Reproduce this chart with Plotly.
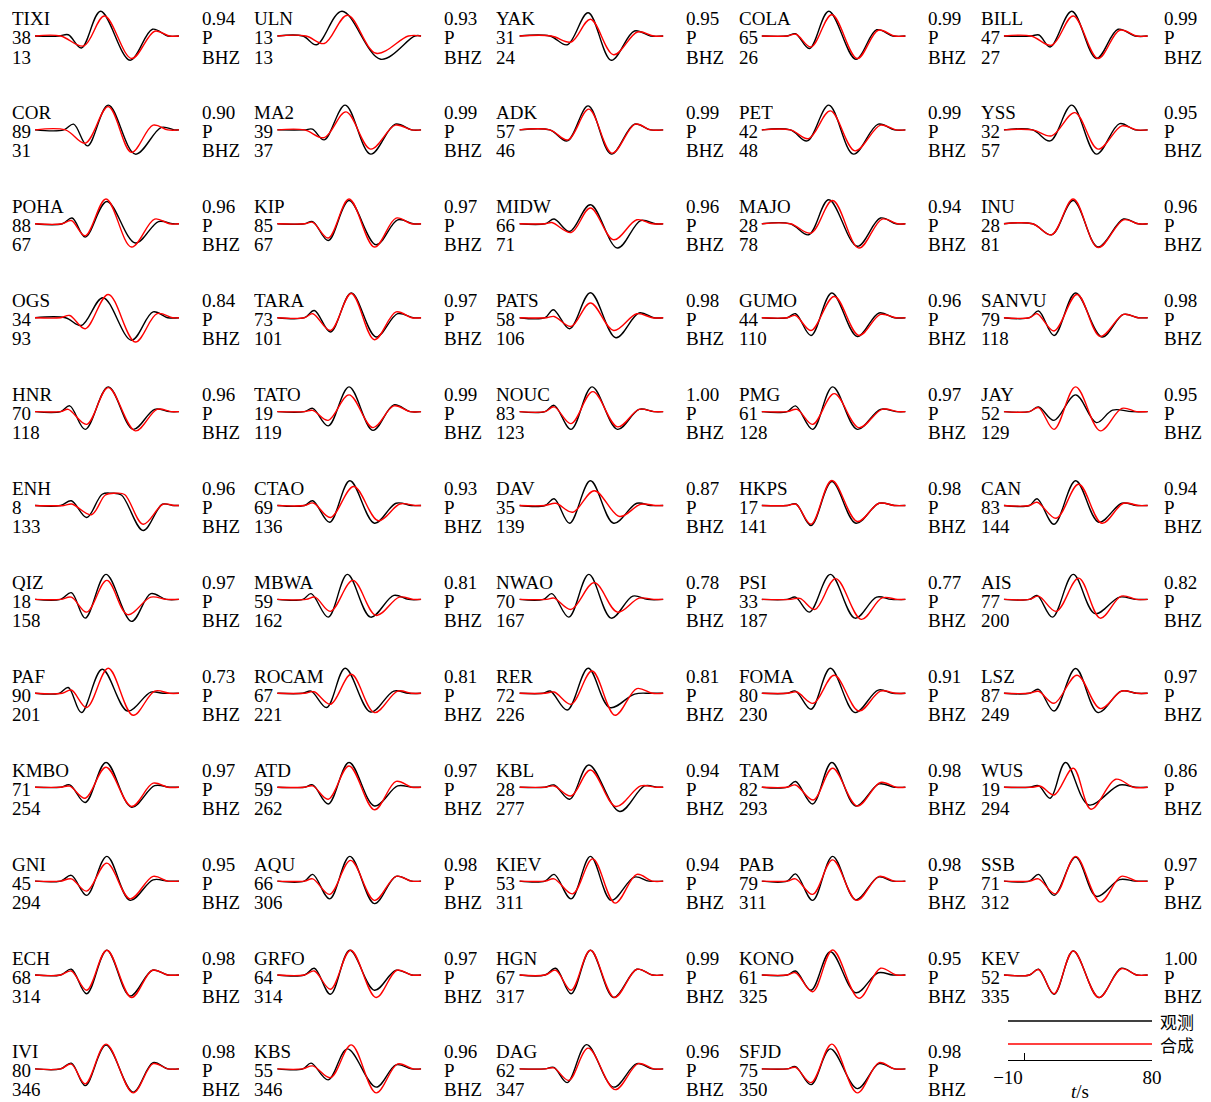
import plotly.graph_objects as go

W, H = 1211, 1102

# Station metadata, row-major order of the panels
STATIONS = ["TIXI", "ULN", "YAK", "COLA", "BILL",
            "COR", "MA2", "ADK", "PET", "YSS",
            "POHA", "KIP", "MIDW", "MAJO", "INU",
            "OGS", "TARA", "PATS", "GUMO", "SANVU",
            "HNR", "TATO", "NOUC", "PMG", "JAY",
            "ENH", "CTAO", "DAV", "HKPS", "CAN",
            "QIZ", "MBWA", "NWAO", "PSI", "AIS",
            "PAF", "ROCAM", "RER", "FOMA", "LSZ",
            "KMBO", "ATD", "KBL", "TAM", "WUS",
            "GNI", "AQU", "KIEV", "PAB", "SSB",
            "ECH", "GRFO", "HGN", "KONO", "KEV",
            "IVI", "KBS", "DAG", "SFJD"]
DISTANCE = [38, 13, 31, 65, 47,
            89, 39, 57, 42, 32,
            88, 85, 66, 28, 28,
            34, 73, 58, 44, 79,
            70, 19, 83, 61, 52,
            8, 69, 35, 17, 83,
            18, 59, 70, 33, 77,
            90, 67, 72, 80, 87,
            71, 59, 28, 82, 19,
            45, 66, 53, 79, 71,
            68, 64, 67, 61, 52,
            80, 55, 62, 75]
AZIMUTH = [13, 13, 24, 26, 27,
           31, 37, 46, 48, 57,
           67, 67, 71, 78, 81,
           93, 101, 106, 110, 118,
           118, 119, 123, 128, 129,
           133, 136, 139, 141, 144,
           158, 162, 167, 187, 200,
           201, 221, 226, 230, 249,
           254, 262, 277, 293, 294,
           294, 306, 311, 311, 312,
           314, 314, 317, 325, 335,
           346, 346, 347, 350]
CORRELATION = [0.94, 0.93, 0.95, 0.99, 0.99,
               0.90, 0.99, 0.99, 0.99, 0.95,
               0.96, 0.97, 0.96, 0.94, 0.96,
               0.84, 0.97, 0.98, 0.96, 0.98,
               0.96, 0.99, 1.00, 0.97, 0.95,
               0.96, 0.93, 0.87, 0.98, 0.94,
               0.97, 0.81, 0.78, 0.77, 0.82,
               0.73, 0.81, 0.81, 0.91, 0.97,
               0.97, 0.97, 0.94, 0.98, 0.86,
               0.95, 0.98, 0.94, 0.98, 0.97,
               0.98, 0.97, 0.99, 0.95, 1.00,
               0.98, 0.96, 0.96, 0.98]
PHASE = "P"
CHANNEL = "BHZ"

# Window of each trace (s) and the scale-bar ticks
WINDOW = [-10, 80]
SCALE_TICKS = [-10, 0, 80]
SCALE_LABELS = ["\u221210", "", "80"]

# Waveform turning points (time in s, normalised amplitude)
OBSERVED = [
    [(5, 0), (10.8, 0.05), (19, -0.48), (31, 0.99), (49.4, -0.97), (63.4, 0.27), (73, 0)],
    [(6, 0), (14.6, -0.35), (30.5, 0.99), (54.7, -0.93), (76, 0)],
    [(9, 0), (19.9, -0.35), (33, 0.93), (47.4, -0.97), (61.9, 0.2), (72, 0)],
    [(6, 0), (11.2, 0.09), (19.9, -0.5), (32, 0.99), (48.9, -0.93), (61.9, 0.25), (72, 0)],
    [(7, 0), (12, 0.04), (19, -0.44), (32.5, 0.99), (47.9, -0.9), (61.4, 0.27), (72, 0)],

    [(8, 0), (14.1, 0.23), (22.8, -0.64), (35.8, 0.99), (52.7, -0.97), (69, 0.1), (77, 0)],
    [(7, 0), (12, 0.03), (19.4, -0.4), (32.5, 0.99), (48.4, -0.97), (63.8, 0.23), (74, 0)],
    [(9, 0), (19.9, -0.44), (33, 0.96), (47.4, -0.97), (61.9, 0.23), (72, 0)],
    [(8, 0), (18.5, -0.44), (32, 0.99), (47.4, -0.97), (62.9, 0.23), (73, 0)],
    [(8, 0), (19, -0.44), (32.5, 0.99), (47.9, -0.97), (62.4, 0.25), (72, 0)],

    [(7, 0), (13.2, 0.23), (21.4, -0.53), (34.9, 0.89), (52.7, -0.77), (67.2, 0.09), (76, 0)],
    [(7, 0), (12.2, 0.09), (21.9, -0.67), (34.9, 0.93), (51.8, -0.84), (65.3, 0.16), (75, 0)],
    [(6, 0), (11.7, 0.19), (21.4, -0.31), (34.4, 0.76), (51.3, -0.97), (65.8, 0.13), (75, 0)],
    [(8, 0), (19.4, -0.44), (32, 0.96), (49.8, -0.9), (64.3, 0.23), (74, 0)],
    [(8, 0), (19.9, -0.44), (33.4, 0.93), (48.9, -0.93), (64.8, 0.19), (74, 0)],

    [(9, 0), (19, -0.31), (32.5, 0.8), (50.3, -0.9), (63.8, 0.23), (73, 0)],
    [(7, 0), (13.2, 0.29), (23.3, -0.57), (36.3, 0.99), (51.8, -0.77), (65.3, 0.16), (75, 0)],
    [(6, 0), (11.2, 0.32), (21.4, -0.44), (34.4, 1.0), (50.3, -0.8), (64.8, 0.19), (74, 0)],
    [(6, 0), (11.2, 0.16), (20.9, -0.71), (33.9, 0.99), (49.8, -0.75), (63.4, 0.19), (73, 0)],
    [(6, 0), (11.7, 0.27), (21.4, -0.71), (34.9, 0.99), (51.3, -0.77), (64.8, 0.13), (74, 0)],

    [(6, 0), (11.7, 0.23), (21.4, -0.71), (35.8, 0.99), (51.3, -0.71), (64.8, 0.09), (74, 0)],
    [(7, 0), (12.2, 0.13), (21.9, -0.57), (34.9, 0.99), (49.8, -0.75), (62.9, 0.27), (73, 0)],
    [(6, 0), (11.7, 0.25), (22.3, -0.71), (35.4, 0.99), (51.3, -0.71), (64.8, 0.09), (74, 0)],
    [(6, 0), (11.2, 0.23), (21.9, -0.71), (34.4, 0.99), (49.8, -0.71), (64.3, 0.09), (74, 0)],
    [(6, 0), (11.7, 0.19), (21.4, -0.35), (34.9, 0.67), (47.9, -0.44), (58, 0.06), (70, 0)],

    [(6, 0), (12.7, 0.19), (22.3, -0.48), (32, 0.45), (38, 0.49), (44, 0.42), (57.6, -1.0), (69.6, 0.05), (76, 0)],
    [(7, 0), (12.2, 0.19), (22.8, -0.67), (35.4, 0.99), (50.8, -0.71), (64.3, 0.09), (74, 0)],
    [(6, 0), (11.7, 0.27), (21.4, -0.71), (34.4, 0.99), (48.9, -0.71), (63.4, 0.09), (72, 0)],
    [(6, 0), (11.5, 0.06), (20.9, -0.8), (33.9, 0.96), (48.9, -0.71), (63.4, 0.09), (73, 0)],
    [(6, 0), (10.8, 0.27), (21.4, -0.75), (34.9, 0.99), (49.4, -0.67), (63.8, 0.09), (73, 0)],

    [(6, 0), (12.7, 0.27), (21.4, -0.75), (34.4, 1.0), (50.3, -0.88), (62.4, 0.23), (72, 0)],
    [(6, 0), (11.2, 0.23), (21.9, -0.71), (33.9, 1.0), (48.4, -0.71), (62.9, 0.16), (72, 0)],
    [(5, 0), (10.3, 0.23), (20.9, -0.71), (33.4, 1.0), (47.4, -0.75), (60.9, 0.13), (70, 0)],
    [(6, 0), (11.2, 0.09), (19.9, -0.51), (33, 1.0), (48.4, -0.75), (61.9, 0.09), (71, 0)],
    [(6, 0), (10.8, 0.16), (20.4, -0.71), (33.4, 1.0), (47, -0.57), (62.4, 0.09), (72, 0)],

    [(5, 0), (10.8, 0.23), (19, -0.77), (32, 0.96), (47.9, -0.71), (62.4, 0.05), (70, 0)],
    [(6, 0), (11.2, 0.09), (20.9, -0.57), (32.5, 1.0), (48.4, -0.75), (62.9, 0.09), (72, 0)],
    [(5, 0), (9.3, 0.09), (19.9, -0.67), (33, 1.0), (46.5, -0.57), (62, -0.03), (72, 0)],
    [(6, 0), (11.2, 0.09), (20.9, -0.64), (33, 1.0), (48.4, -0.77), (62.9, 0.13), (72, 0)],
    [(6, 0), (11.7, 0.16), (21.4, -0.71), (34.9, 0.99), (48.9, -0.77), (63.4, 0.09), (73, 0)],

    [(6, 0), (11.7, 0.09), (21.4, -0.61), (34.4, 0.99), (50.3, -0.8), (64.8, 0.06), (74, 0)],
    [(7, 0), (12.2, 0.09), (21.9, -0.67), (34.9, 0.99), (50.8, -0.75), (65.3, 0.05), (74, 0)],
    [(6, 0), (11.7, 0.09), (21.4, -0.48), (33.4, 0.89), (52.7, -0.97), (68.2, 0.05), (76, 0)],
    [(6, 0), (11.2, 0.23), (21.9, -0.67), (33.9, 0.99), (48.9, -0.75), (63.4, 0.13), (73, 0)],
    [(6, 0), (11.7, 0.06), (19, -0.44), (28.6, 0.99), (43.1, -0.71), (62.4, 0.09), (72, 0)],

    [(6, 0), (12.7, 0.23), (22.3, -0.57), (34.9, 0.99), (49.4, -0.77), (63.8, 0.05), (73, 0)],
    [(7, 0), (12.2, 0.27), (22.8, -0.71), (35.4, 0.99), (50.8, -0.9), (64.3, 0.19), (74, 0)],
    [(6, 0), (11.7, 0.27), (22.3, -0.71), (34.4, 0.99), (47.4, -0.77), (61.9, 0.16), (71, 0)],
    [(6, 0), (11.2, 0.29), (21.9, -0.77), (34.4, 0.99), (48.9, -0.75), (62.9, 0.16), (72, 0)],
    [(6, 0), (11.7, 0.27), (21.4, -0.57), (34.9, 0.96), (47.9, -0.61), (62.4, 0.06), (72, 0)],

    [(6, 0), (12.7, 0.23), (22.3, -0.75), (34.9, 0.99), (49.4, -0.84), (63.4, 0.19), (73, 0)],
    [(7, 0), (13.2, 0.27), (23.3, -0.77), (35.4, 0.99), (50.8, -0.61), (64.3, 0.19), (74, 0)],
    [(6, 0), (12.7, 0.27), (22.3, -0.75), (34.4, 0.99), (48.9, -0.9), (63.4, 0.23), (73, 0)],
    [(6, 0), (11.2, 0.16), (20.9, -0.61), (33, 0.93), (48.9, -0.71), (62.9, 0.09), (72, 0)],
    [(6, 0), (11.7, 0.23), (21.4, -0.77), (33.4, 0.96), (49.4, -0.9), (63.4, 0.27), (73, 0)],

    [(6, 0), (12.7, 0.23), (21.4, -0.67), (34.4, 0.95), (51.3, -0.93), (63.8, 0.25), (73, 0)],
    [(6, 0), (11.2, 0.23), (21.9, -0.44), (33.9, 0.8), (51.8, -0.73), (64.3, 0.16), (74, 0)],
    [(6, 0), (11.5, 0.06), (19.9, -0.55), (32, 0.97), (48.9, -0.73), (63.4, 0.21), (73, 0)],
    [(6, 0), (11.2, 0.09), (20.9, -0.63), (33, 0.8), (49.8, -0.79), (63.4, 0.21), (73, 0)],
]

SYNTHETIC = [
    [(6, 0), (20.4, -0.4), (33.4, 0.8), (50.4, -0.9), (64.8, 0.19), (74, 0)],
    [(8, 0), (19.4, -0.3), (33.9, 0.83), (51.8, -0.69), (72, 0)],
    [(10, 0), (22.3, -0.24), (34.4, 0.67), (48.9, -0.75), (63.8, 0.16), (74, 0)],
    [(6, 0), (11.5, 0.07), (20.9, -0.44), (33.9, 0.85), (49.8, -0.9), (62.9, 0.23), (73, 0)],
    [(7, 0), (19.9, -0.37), (33.4, 0.8), (48.9, -0.9), (62.4, 0.23), (73, 0)],

    [(9, 0), (21.4, -0.53), (35.8, 0.93), (50.3, -0.9), (63.8, 0.19), (73, 0)],
    [(7, 0), (19.4, -0.31), (33, 0.72), (48.4, -0.77), (63.8, 0.19), (74, 0)],
    [(9, 0), (20.4, -0.4), (33.4, 0.83), (47.9, -0.93), (62.4, 0.23), (72, 0)],
    [(8, 0), (19.4, -0.35), (33, 0.76), (48.4, -0.84), (64.3, 0.19), (74, 0)],
    [(8, 0), (19.9, -0.24), (34.4, 0.69), (48.9, -0.77), (63.8, 0.16), (73, 0)],

    [(7, 0), (12.7, 0.13), (21.4, -0.48), (34.4, 0.99), (50.3, -0.93), (64.8, 0.19), (74, 0)],
    [(7, 0), (12.2, 0.06), (21.9, -0.57), (34.9, 0.99), (50.8, -0.93), (64.3, 0.23), (74, 0)],
    [(6, 0), (10.3, 0.05), (22.3, -0.35), (34.4, 0.63), (48.9, -0.64), (63.4, 0.16), (73, 0)],
    [(8, 0), (20.9, -0.37), (34.4, 0.93), (50.8, -0.97), (65.3, 0.19), (75, 0)],
    [(8, 0), (19.9, -0.44), (33.4, 0.99), (48.9, -0.95), (64.8, 0.16), (74, 0)],

    [(6, 0), (11.7, 0.09), (21.4, -0.44), (35.8, 0.93), (52.7, -0.97), (66.3, 0.16), (76, 0)],
    [(7, 0), (12.2, 0.16), (23.3, -0.51), (36.3, 0.97), (50.8, -0.88), (64.3, 0.23), (74, 0)],
    [(7, 0), (11.7, 0.05), (22.3, -0.35), (34.4, 0.59), (48.9, -0.51), (63.4, 0.16), (73, 0)],
    [(6, 0), (11.2, 0.09), (20.9, -0.51), (35.4, 0.85), (50.8, -0.71), (64.3, 0.13), (74, 0)],
    [(6, 0), (10.8, 0.16), (21.4, -0.53), (35.8, 0.93), (50.3, -0.75), (64.8, 0.13), (74, 0)],

    [(6, 0), (10.8, 0.09), (22.3, -0.51), (35.8, 0.96), (52.7, -0.77), (66.3, 0.09), (75, 0)],
    [(7, 0), (12.2, 0.05), (21.9, -0.35), (34.9, 0.67), (49.8, -0.64), (62.9, 0.23), (73, 0)],
    [(6, 0), (11.7, 0.19), (22.3, -0.48), (35.9, 0.8), (51.3, -0.61), (64.8, 0.09), (74, 0)],
    [(6, 0), (12.2, 0.09), (21.9, -0.51), (35.4, 0.72), (50.8, -0.64), (65.3, 0.09), (75, 0)],
    [(6, 0), (11.7, 0.16), (21.4, -0.71), (34.9, 0.99), (50.3, -0.77), (63.8, 0.13), (73, 0)],

    [(8, 0), (13, 0.06), (25.2, -0.37), (34, 0.42), (40, 0.49), (46, 0.44), (57.6, -0.75), (70, 0.05), (77, 0)],
    [(7, 0), (12.5, 0.1), (23.3, -0.48), (37.8, 0.76), (53.2, -0.61), (66.7, 0.06), (76, 0)],
    [(6, 0), (12.7, 0.09), (23.3, -0.27), (36.8, 0.59), (52.7, -0.44), (65.8, 0.05), (75, 0)],
    [(6, 0), (11.5, 0.05), (20.9, -0.75), (33.9, 1.0), (49.8, -0.64), (63.4, 0.09), (73, 0)],
    [(6, 0), (10.8, 0.13), (22.8, -0.51), (36.8, 0.85), (51.3, -0.71), (64.8, 0.09), (74, 0)],

    [(6, 0), (12.7, 0.09), (22.3, -0.51), (34.9, 0.76), (47.9, -0.61), (62.4, 0.09), (72, 0)],
    [(8, 0), (13.6, 0.09), (23.3, -0.48), (37.3, 0.76), (51.8, -0.64), (66.3, 0.09), (75, 0)],
    [(7, 0), (11.7, 0.05), (22.3, -0.4), (36.8, 0.67), (51.3, -0.51), (64.8, 0.05), (74, 0)],
    [(8, 0), (14, 0.04), (23.3, -0.4), (36.3, 0.83), (52.3, -0.8), (65.3, 0.06), (75, 0)],
    [(6, 0), (11.7, 0.13), (22.8, -0.48), (36.8, 0.85), (50.3, -0.75), (63.4, 0.13), (73, 0)],

    [(7, 0), (12.7, 0.13), (22.3, -0.57), (35.8, 1.0), (51.3, -0.88), (64.8, 0.09), (74, 0)],
    [(7, 0), (13, 0.06), (23.3, -0.44), (36.3, 0.76), (50.8, -0.77), (65.3, 0.09), (74, 0)],
    [(6, 0), (11.7, 0.05), (22.3, -0.44), (35.4, 0.89), (49.8, -0.88), (63.4, 0.19), (73, 0)],
    [(6, 0), (12, 0.05), (22.3, -0.4), (35.4, 0.72), (50.8, -0.71), (64.3, 0.09), (74, 0)],
    [(6, 0), (11.7, 0.08), (21.4, -0.4), (35.8, 0.72), (50.3, -0.61), (63.8, 0.09), (73, 0)],

    [(6, 0), (11.7, 0.04), (21.4, -0.44), (34.4, 0.8), (50.3, -0.77), (63.8, 0.16), (73, 0)],
    [(7, 0), (12.2, 0.05), (21.9, -0.48), (34.9, 0.85), (50.8, -0.9), (64.3, 0.23), (74, 0)],
    [(6, 0), (11.7, 0.05), (22.3, -0.35), (34.4, 0.69), (50.3, -0.77), (65.8, 0.05), (75, 0)],
    [(6, 0), (11.2, 0.09), (22.3, -0.51), (34.4, 0.76), (49.8, -0.75), (64.3, 0.19), (74, 0)],
    [(8, 0), (13, 0.04), (21.4, -0.31), (33.4, 0.76), (44.5, -0.88), (60, 0.32), (71, 0)],

    [(6, 0), (12.7, 0.09), (22.3, -0.4), (34.9, 0.72), (49.4, -0.71), (63.8, 0.19), (73, 0)],
    [(7, 0), (12.2, 0.09), (22.8, -0.53), (35.9, 0.83), (50.8, -0.77), (64.3, 0.19), (74, 0)],
    [(6, 0), (11.7, 0.09), (23.3, -0.51), (35.8, 0.89), (49.8, -0.88), (63.4, 0.27), (73, 0)],
    [(6, 0), (11.2, 0.09), (21.9, -0.53), (34.4, 0.85), (49.4, -0.77), (63.4, 0.19), (73, 0)],
    [(6, 0), (11.7, 0.09), (22.3, -0.51), (34.9, 0.99), (50.3, -0.84), (63.4, 0.19), (73, 0)],

    [(6, 0), (12.7, 0.16), (22.3, -0.61), (34.9, 0.99), (50.3, -0.9), (63.4, 0.19), (73, 0)],
    [(7, 0), (13.2, 0.16), (23.3, -0.57), (35.9, 0.99), (51.8, -0.9), (64.8, 0.19), (74, 0)],
    [(6, 0), (12.7, 0.19), (22.3, -0.61), (34.4, 0.99), (49.4, -0.9), (63.4, 0.23), (73, 0)],
    [(6, 0), (11.2, 0.09), (21.9, -0.67), (34.4, 1.0), (50.8, -0.93), (64.3, 0.27), (74, 0)],
    [(6, 0), (11.7, 0.22), (21.4, -0.75), (33.4, 0.96), (49.4, -0.9), (63.4, 0.25), (73, 0)],

    [(6, 0), (12.7, 0.19), (21.4, -0.6), (34.4, 0.99), (51.3, -0.96), (63.8, 0.21), (73, 0)],
    [(6, 0), (12.2, 0.12), (23.3, -0.35), (36.3, 0.96), (51.8, -0.96), (65.3, 0.2), (75, 0)],
    [(6, 0), (11.5, 0.04), (20.9, -0.46), (33, 0.83), (49.8, -0.83), (64.3, 0.21), (74, 0)],
    [(6, 0), (11.2, 0.06), (20.9, -0.55), (33.9, 0.99), (49.8, -0.96), (63.4, 0.25), (73, 0)],
]

LEGEND_LABELS = ["观测", "合成"]
OBS_COLOR = "black"
SYN_COLOR = "#ff0000"

# ---- panel geometry (pixels) ----
NCOL = 5
COL_STEP = 242.2
ROW_STEP = 93.9
LABEL_X0 = 12          # left labels of first column
WAVE_X0 = 35           # left end of first trace
WAVE_W = 144           # trace width
RIGHT_X = [202, 444, 686, 928, 1164]   # right-hand label column of each panel column
BASE_Y0 = 36           # baseline of first row
LINE_GAP = 19          # spacing between text lines
TEXT_DY = 1.5          # nudge of text boxes relative to the baseline
HALF_H = 30            # half height of each trace box
Y_RANGE = 1.2          # amplitude shown in the half height

SERIF = "Liberation Serif"
FS = 19


def px(x):
    return x / W


def py(y):
    return 1 - y / H


fig = go.Figure()
layout_axes = {}
annotations = []


def add_text(x, y, text, xanchor="left", font=None, height=18):
    annotations.append(dict(
        x=px(x), y=py(y), xref="paper", yref="paper", text=text,
        showarrow=False, xanchor=xanchor, yanchor="middle", valign="middle",
        height=height, borderpad=0, borderwidth=0,
        font=font or dict(family=SERIF, size=FS, color="black")))


def pad(points):
    ts = [WINDOW[0]] + [p[0] for p in points] + [WINDOW[1]]
    amps = [0] + [p[1] for p in points] + [0]
    return ts, amps


for k, name in enumerate(STATIONS):
    r, c = divmod(k, NCOL)
    base = BASE_Y0 + r * ROW_STEP
    x0 = WAVE_X0 + c * COL_STEP
    ax = "" if k == 0 else str(k + 1)
    layout_axes["xaxis" + ax] = dict(
        domain=[px(x0), px(x0 + WAVE_W)], range=WINDOW, visible=False,
        anchor="y" + ax, fixedrange=True, automargin=False)
    layout_axes["yaxis" + ax] = dict(
        domain=[py(base + HALF_H), py(base - HALF_H)], range=[-Y_RANGE, Y_RANGE],
        visible=False, anchor="x" + ax, fixedrange=True, automargin=False)

    for pts, color in ((OBSERVED[k], OBS_COLOR), (SYNTHETIC[k], SYN_COLOR)):
        t, a = pad(pts)
        fig.add_trace(go.Scatter(
            x=t, y=a, xaxis="x" + ax, yaxis="y" + ax, mode="lines",
            line=dict(color=color, width=1.4, shape="spline", smoothing=1.0),
            showlegend=False, hoverinfo="skip"))

    lx = LABEL_X0 + c * COL_STEP
    rx = RIGHT_X[c]
    ty = base + TEXT_DY
    add_text(lx, ty - LINE_GAP, name)
    add_text(lx, ty, str(DISTANCE[k]))
    add_text(lx, ty + LINE_GAP, str(AZIMUTH[k]))
    add_text(rx, ty - LINE_GAP, f"{CORRELATION[k]:.2f}")
    add_text(rx, ty, PHASE)
    add_text(rx, ty + LINE_GAP, CHANNEL)

# ---- legend and time scale in the last panel slot ----
LEG_X0, LEG_X1 = 1008, 1152
shapes = []
for i, (lab, color) in enumerate(zip(LEGEND_LABELS, (OBS_COLOR, SYN_COLOR))):
    yy = 1021 + i * 23
    shapes.append(dict(type="line", xref="paper", yref="paper",
                       x0=px(LEG_X0), x1=px(LEG_X1), y0=py(yy), y1=py(yy),
                       line=dict(color=color, width=1.4)))
    add_text(1160, yy, lab, font=dict(family="Noto Sans CJK SC", size=17, color="black"),
             height=20)

sk = len(STATIONS) + 1
layout_axes[f"xaxis{sk}"] = dict(
    domain=[px(LEG_X0), px(LEG_X1)], range=WINDOW, anchor=f"y{sk}",
    showline=True, linecolor="black", linewidth=1.2, ticks="inside", ticklen=7,
    tickcolor="black", tickwidth=1.2, tickvals=SCALE_TICKS, ticktext=SCALE_LABELS,
    tickfont=dict(family=SERIF, size=FS, color="black"), showgrid=False,
    zeroline=False, fixedrange=True, automargin=False,
    title=dict(text="<i>t</i>/s", font=dict(family=SERIF, size=FS, color="black"),
               standoff=2))
layout_axes[f"yaxis{sk}"] = dict(
    domain=[py(1060), py(1052)], range=[0, 1], visible=False, anchor=f"x{sk}",
    fixedrange=True, automargin=False)
fig.add_trace(go.Scatter(x=[WINDOW[0]], y=[0], xaxis=f"x{sk}", yaxis=f"y{sk}",
                         mode="markers", marker=dict(opacity=0), showlegend=False,
                         hoverinfo="skip"))

fig.update_layout(
    width=W, height=H,
    margin=dict(l=0, r=0, t=0, b=0, pad=0, autoexpand=False),
    paper_bgcolor="white", plot_bgcolor="white",
    showlegend=False, annotations=annotations, shapes=shapes,
    **layout_axes)

fig.write_html("out.html")
